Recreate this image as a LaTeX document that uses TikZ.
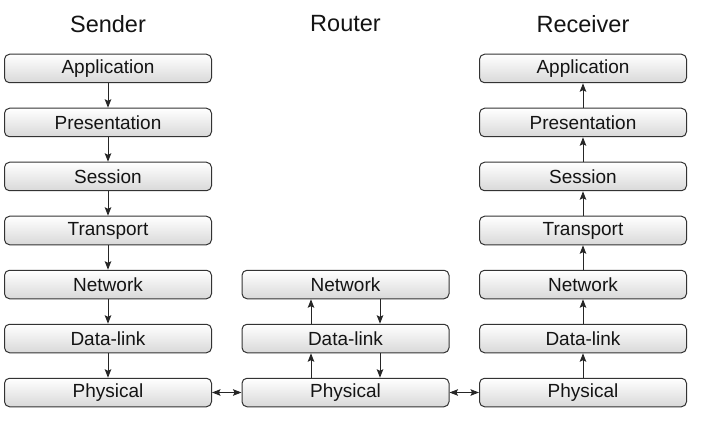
\documentclass[tikz,border=0pt]{standalone}
\usepackage{fontspec}
\setmainfont{Liberation Sans}
\usetikzlibrary{arrows.meta}
\begin{document}
\begin{tikzpicture}[x=1pt,y=-1pt,
  layer/.style={draw=black!80,line width=1pt,rounded corners=5pt,
    top color=white,bottom color=black!15,minimum width=207pt,minimum height=28.5pt,
    inner sep=0pt,font=\fontsize{19}{21}\selectfont,text=black!92},
  ttl/.style={font=\fontsize{23.5}{26}\selectfont,text=black!92},
  tip/.style={},
  arr/.style={draw=black!85,line width=1pt,-{Stealth[length=8.5pt,width=6.5pt,inset=1.5pt]}},
  darr/.style={draw=black!85,line width=1pt,{Stealth[length=8.5pt,width=6.5pt,inset=1.5pt]}-{Stealth[length=8.5pt,width=6.5pt,inset=1.5pt]}}]
\useasboundingbox (0,0) rectangle (704,422);
\node[ttl] (ts) at (108,24) {Sender};
\node[ttl] (tr) at (345.5,24) {Router};
\node[ttl] (tv) at (583,24) {Receiver};
% Sender
\node[layer] (s1) at (108,68.5) {Application};
\node[layer] (s2) at (108,122.5) {Presentation};
\node[layer] (s3) at (108,176.5) {Session};
\node[layer] (s4) at (108,230.5) {Transport};
\node[layer] (s5) at (108,284.5) {Network};
\node[layer] (s6) at (108,338.5) {Data-link};
\node[layer] (s7) at (108,392.5) {Physical};
% Receiver
\node[layer] (r1) at (583,68.5) {Application};
\node[layer] (r2) at (583,122.5) {Presentation};
\node[layer] (r3) at (583,176.5) {Session};
\node[layer] (r4) at (583,230.5) {Transport};
\node[layer] (r5) at (583,284.5) {Network};
\node[layer] (r6) at (583,338.5) {Data-link};
\node[layer] (r7) at (583,392.5) {Physical};
% Router
\node[layer] (m5) at (345.5,284.5) {Network};
\node[layer] (m6) at (345.5,338.5) {Data-link};
\node[layer] (m7) at (345.5,392.5) {Physical};
% sender arrows
\foreach \a/\b in {s1/s2,s2/s3,s3/s4,s4/s5,s5/s6,s6/s7}
  \draw[arr] (\a.south) -- (\b.north);
\foreach \a/\b in {r7/r6,r6/r5,r5/r4,r4/r3,r3/r2,r2/r1}
  \draw[arr] (\a.north) -- (\b.south);
% router arrows
\draw[arr] (m7.north -| 311,0) -- (m6.south -| 311,0);
\draw[arr] (m6.north -| 311,0) -- (m5.south -| 311,0);
\draw[arr] (m5.south -| 380,0) -- (m6.north -| 380,0);
\draw[arr] (m6.south -| 380,0) -- (m7.north -| 380,0);
% links
\draw[darr] (s7.east) -- (m7.west);
\draw[darr] (m7.east) -- (r7.west);
\end{tikzpicture}
\end{document}
